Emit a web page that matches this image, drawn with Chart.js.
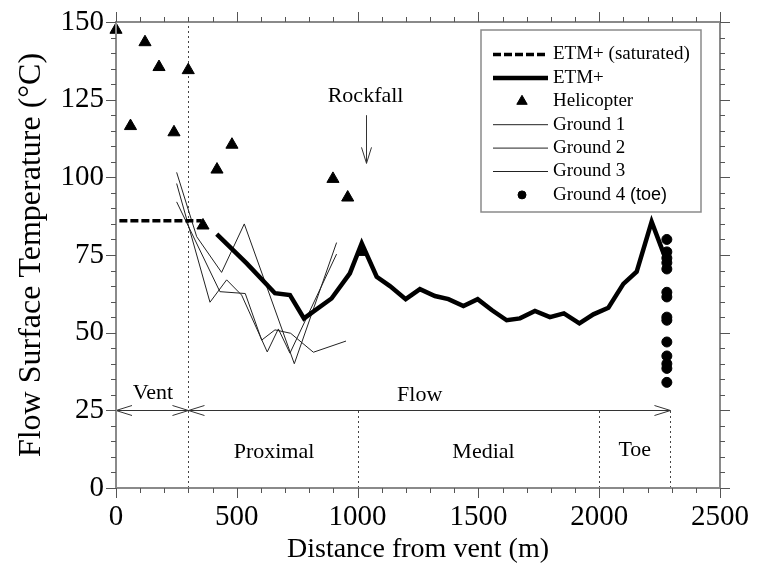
<!DOCTYPE html>
<html>
<head>
<meta charset="utf-8">
<script src="https://cdn.jsdelivr.net/npm/chart.js@4.4.1/dist/chart.umd.min.js"></script>
<style>
  html, body { margin: 0; padding: 0; background: #fff; }
</style>
</head>
<body>
<canvas id="chart" width="758" height="565"></canvas>
<script>
'use strict';

// values (distance from vent in m, temperature in degC)
const satDist = [14, 355];
const satTemp = [86, 86];

const etmDist = [417, 541, 658, 720, 778, 892, 968, 1017, 1079, 1134, 1199, 1258, 1320, 1376, 1438,
                 1497, 1555, 1617, 1672, 1734, 1796, 1854, 1918, 1976, 2038, 2100, 2155, 2217, 2272];
const etmTemp = [81.7, 72.3, 62.7, 62.1, 54.6, 61, 69.1, 78.8, 68, 65, 60.8, 64, 61.8, 60.8, 58.6,
                 60.8, 57.3, 54, 54.6, 57, 55, 56.2, 53, 55.9, 58, 65.7, 69.6, 85.7, 74.4];

const heliDist = [0, 60, 120, 178, 240, 299, 360, 418, 480, 898, 959, 1017];
const heliTemp = [147.5, 116.5, 143.5, 135.5, 114.5, 134.5, 84.5, 102.5, 110.5, 99.5, 93.5, 76];

const ground1Dist = [251, 334, 437, 531, 738, 913];
const ground1Temp = [101.6, 80.9, 69.4, 85, 40, 79];
const ground2Dist = [251, 389, 458, 520, 626, 672, 720, 913];
const ground2Temp = [98, 59.8, 67, 62.1, 43.8, 51.2, 43.4, 75.3];
const ground3Dist = [251, 430, 535, 603, 658, 723, 817, 952];
const ground3Temp = [92.1, 63.2, 62.6, 47.6, 50.9, 49.8, 43.7, 47.3];

const toeDist = [2280, 2280, 2280, 2280, 2280, 2280, 2280, 2280, 2280, 2280, 2280, 2280, 2280, 2280];
const toeTemp = [80, 76, 74, 72.5, 70.5, 63, 61.5, 55, 54, 47, 42.5, 40, 38.5, 34];

// flow sections
const sectionBounds = [300, 1000, 2000, 2295];
const sectionBoundTop = [150, 25, 25, 25];
const sectionArrowTemp = 25;
const ventArrow = [0, 300];
const flowArrow = [300, 2295];
const sectionNames = ['Vent', 'Flow', 'Proximal', 'Medial', 'Toe'];
const sectionNameDist = [153, 1257, 654, 1521, 2147];
const sectionNameTemp = [30.5, 29.9, 11.4, 11.4, 12.2];

const rockfallDist = 1033;
const rockfallArrowTemp = [120, 104.5];
const rockfallTextTemp = 126;

const serif = '"Liberation Serif", "Times New Roman", serif';
const sans = '"Liberation Sans", Arial, sans-serif';

function toPoints(xs, ys) {
    return xs.map((x, i) => ({ x: x, y: ys[i] }));
}

function openHead(ctx, px, py, dx, dy) {
    // open "V" arrow head pointing along (dx, dy)
    const len = 16, half = 5;
    ctx.beginPath();
    ctx.moveTo(px - dx * len - dy * half, py - dy * len - dx * half);
    ctx.lineTo(px, py);
    ctx.lineTo(px - dx * len + dy * half, py - dy * len + dx * half);
    ctx.stroke();
}

const figurePlugin = {
    id: 'figure',
    beforeDatasetsDraw(chart) {
        const { ctx, scales: { x, y } } = chart;
        ctx.save();

        // dotted section boundaries
        ctx.strokeStyle = '#444';
        ctx.lineWidth = 1;
        ctx.setLineDash([2, 3]);
        sectionBounds.forEach((d, i) => {
            const px = Math.round(x.getPixelForValue(d)) + 0.5;
            ctx.beginPath();
            ctx.moveTo(px, y.getPixelForValue(0));
            ctx.lineTo(px, y.getPixelForValue(sectionBoundTop[i]));
            ctx.stroke();
        });
        ctx.setLineDash([]);

        // vent / flow arrows
        const ay = Math.round(y.getPixelForValue(sectionArrowTemp)) + 0.5;
        ctx.strokeStyle = '#333';
        [ventArrow, flowArrow].forEach(a => {
            const x0 = x.getPixelForValue(a[0]);
            const x1 = x.getPixelForValue(a[1]);
            ctx.beginPath();
            ctx.moveTo(x0, ay);
            ctx.lineTo(x1, ay);
            ctx.stroke();
            openHead(ctx, x0, ay, -1, 0);
            openHead(ctx, x1, ay, 1, 0);
        });

        // rockfall arrow
        const rx = Math.round(x.getPixelForValue(rockfallDist)) + 0.5;
        const ry0 = y.getPixelForValue(rockfallArrowTemp[0]);
        const ry1 = y.getPixelForValue(rockfallArrowTemp[1]);
        ctx.beginPath();
        ctx.moveTo(rx, ry0);
        ctx.lineTo(rx, ry1);
        ctx.stroke();
        openHead(ctx, rx, ry1, 0, 1);

        // labels
        ctx.fillStyle = '#000';
        ctx.font = '22px ' + serif;
        ctx.textAlign = 'center';
        ctx.textBaseline = 'middle';
        sectionNames.forEach((t, i) => {
            ctx.fillText(t, x.getPixelForValue(sectionNameDist[i]), y.getPixelForValue(sectionNameTemp[i]));
        });
        ctx.fillText('Rockfall', x.getPixelForValue(rockfallDist), y.getPixelForValue(rockfallTextTemp));
        ctx.restore();
    },
    afterDatasetsDraw(chart) {
        const { ctx, chartArea: a, scales: { x, y } } = chart;
        ctx.save();

        // frame
        ctx.strokeStyle = '#8a8a8a';
        ctx.lineWidth = 2;
        ctx.strokeRect(a.left, a.top, a.right - a.left, a.bottom - a.top);

        // outward ticks on all four sides
        ctx.strokeStyle = '#555';
        ctx.lineWidth = 1;
        ctx.beginPath();
        x.ticks.forEach(t => {
            const len = t.value % 500 === 0 ? 10 : 5;
            const px = Math.round(x.getPixelForValue(t.value)) + 0.5;
            ctx.moveTo(px, a.bottom); ctx.lineTo(px, a.bottom + len);
            ctx.moveTo(px, a.top); ctx.lineTo(px, a.top - len);
        });
        y.ticks.forEach(t => {
            const len = t.value % 25 === 0 ? 10 : 5;
            const py = Math.round(y.getPixelForValue(t.value)) + 0.5;
            ctx.moveTo(a.left, py); ctx.lineTo(a.left - len, py);
            ctx.moveTo(a.right, py); ctx.lineTo(a.right + len, py);
        });
        ctx.stroke();

        // legend box in the upper right corner
        const bw = 220, bh = 182;
        const bx = a.right - 239, by = a.top + 8;
        ctx.fillStyle = '#fff';
        ctx.fillRect(bx, by, bw, bh);
        ctx.strokeStyle = '#8a8a8a';
        ctx.lineWidth = 1.5;
        ctx.strokeRect(bx, by, bw, bh);

        ctx.textAlign = 'left';
        ctx.textBaseline = 'middle';
        chart.data.datasets.forEach((ds, i) => {
            const ry = by + 24.5 + i * 23.4;
            if (ds.showLine) {
                ctx.strokeStyle = ds.borderColor;
                ctx.lineWidth = ds.borderWidth;
                ctx.setLineDash(ds.borderDash || []);
                ctx.beginPath();
                ctx.moveTo(bx + 12, ry);
                ctx.lineTo(bx + 67, ry);
                ctx.stroke();
                ctx.setLineDash([]);
            } else {
                ctx.fillStyle = ds.backgroundColor;
                ctx.strokeStyle = ds.borderColor;
                ctx.lineWidth = 1;
                Chart.helpers.drawPoint(ctx, { pointStyle: ds.pointStyle, radius: ds.pointRadius - 1, borderWidth: 1 }, bx + 41, ry);
            }
            ctx.fillStyle = '#000';
            const m = ds.label.match(/^(.*?)(\(toe\))?$/);
            ctx.font = '19px ' + serif;
            ctx.fillText(m[1], bx + 72, ry);
            if (m[2]) {
                const w = ctx.measureText(m[1]).width;
                ctx.font = '18px ' + sans;
                ctx.fillText(m[2], bx + 72 + w, ry);
            }
        });
        ctx.restore();
    }
};

const lineSet = (label, xs, ys, width, dash) => ({
    label: label,
    data: toPoints(xs, ys),
    showLine: true,
    borderColor: '#000',
    backgroundColor: '#000',
    borderWidth: width,
    borderDash: dash,
    pointRadius: 0,
    tension: 0
});

new Chart(document.getElementById('chart'), {
    type: 'scatter',
    data: {
        datasets: [
            lineSet('ETM+ (saturated)', satDist, satTemp, 3.5, [8, 3]),
            lineSet('ETM+', etmDist, etmTemp, 4.5, []),
            {
                label: 'Helicopter',
                data: toPoints(heliDist, heliTemp),
                pointStyle: 'triangle',
                pointRadius: 7,
                backgroundColor: '#000',
                borderColor: '#000',
                clip: false
            },
            Object.assign(lineSet('Ground 1', ground1Dist, ground1Temp, 1, []), { borderColor: '#222' }),
            Object.assign(lineSet('Ground 2', ground2Dist, ground2Temp, 1, []), { borderColor: '#222' }),
            Object.assign(lineSet('Ground 3', ground3Dist, ground3Temp, 1, []), { borderColor: '#222' }),
            {
                label: 'Ground 4 (toe)',
                data: toPoints(toeDist, toeTemp),
                pointStyle: 'circle',
                pointRadius: 5,
                backgroundColor: '#000',
                borderColor: '#000'
            }
        ]
    },
    options: {
        responsive: false,
        animation: false,
        layout: { padding: { top: 22, right: 38, left: 0, bottom: 0 } },
        plugins: {
            legend: { display: false },
            tooltip: { enabled: false }
        },
        scales: {
            x: {
                type: 'linear',
                min: 0,
                max: 2500,
                grid: { display: false, drawTicks: false },
                border: { display: false },
                ticks: {
                    stepSize: 100,
                    autoSkip: false,
                    maxRotation: 0,
                    padding: 12,
                    color: '#000',
                    font: { family: serif, size: 29 },
                    callback: v => (v % 500 === 0 ? v : '')
                },
                title: {
                    display: true,
                    text: 'Distance from vent (m)',
                    color: '#000',
                    font: { family: serif, size: 28, lineHeight: 1 },
                    padding: { top: 0, bottom: 1 }
                },
                afterFit: s => {
                    s.height = 77;
                    s.paddingLeft = 0;
                    s.paddingRight = 0;
                }
            },
            y: {
                type: 'linear',
                min: 0,
                max: 150,
                grid: { display: false, drawTicks: false },
                border: { display: false },
                ticks: {
                    stepSize: 5,
                    autoSkip: false,
                    padding: 12,
                    color: '#000',
                    font: { family: serif, size: 29 },
                    callback: v => (v % 25 === 0 ? v : '')
                },
                title: {
                    display: true,
                    text: 'Flow Surface Temperature (\u00B0C)',
                    color: '#000',
                    font: { family: serif, size: 32, lineHeight: 1 },
                    padding: { top: 16, bottom: 0 }
                },
                afterFit: s => {
                    s.width = 116;
                    s.paddingTop = 0;
                    s.paddingBottom = 0;
                }
            }
        }
    },
    plugins: [figurePlugin]
});
</script>
</body>
</html>
